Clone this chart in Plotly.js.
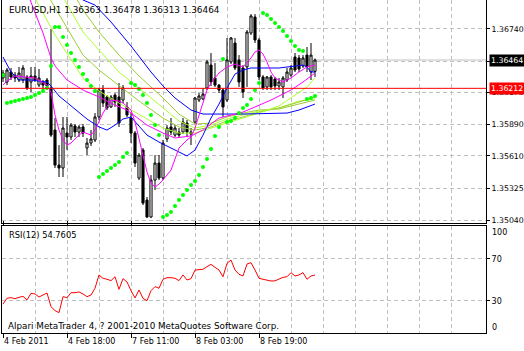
<!DOCTYPE html>
<html><head><meta charset="utf-8">
<script src="https://cdn.plot.ly/plotly-3.0.1.min.js"></script>
<style>html,body{margin:0;padding:0;background:#fff;overflow:hidden}#chart{width:524px;height:351px}</style>
</head><body><div id="chart"></div>
<script>
const symbolName = 'EURUSD,H1';
const openP = [1.36304,1.36268,1.36357,1.36330,1.36286,1.36286,1.36313,1.36268,1.36322,1.36241,
1.36268,1.36286,1.36215,1.35841,1.35529,1.35503,1.35814,1.35779,1.35877,1.35823,
1.35868,1.35681,1.35725,1.35752,1.35957,1.36197,1.36135,1.36046,1.36152,1.36135,
1.36108,1.36046,1.35948,1.35814,1.35414,1.35663,1.35218,1.35067,1.35396,1.35547,
1.35414,1.35761,1.35868,1.35796,1.35823,1.35823,1.35903,1.35823,1.35912,1.36108,
1.36117,1.36215,1.36419,1.36304,1.36241,1.36197,1.36108,1.36446,1.36615,1.36464,
1.36393,1.36402,1.36704,1.36847,1.36642,1.36313,1.36224,1.36313,1.36295,1.36233,
1.36224,1.36286,1.36330,1.36491,1.36482,1.36411,1.36508,1.36357,1.36363];
const highP = [1.36375,1.36393,1.36393,1.36357,1.36402,1.36419,1.36330,1.36402,1.36402,1.36384,
1.36286,1.36304,1.36740,1.35948,1.35707,1.35957,1.35957,1.35903,1.35894,1.35885,
1.35894,1.35770,1.35841,1.35992,1.36215,1.36241,1.36152,1.36152,1.36170,1.36259,
1.36241,1.36090,1.35992,1.35832,1.35636,1.35681,1.35245,1.35440,1.35618,1.35618,
1.35752,1.35885,1.35948,1.35885,1.35859,1.35948,1.35930,1.35859,1.36135,1.36170,
1.36215,1.36464,1.36526,1.36437,1.36250,1.36215,1.36660,1.36669,1.36660,1.36508,
1.36419,1.36731,1.36873,1.36873,1.36660,1.36330,1.36322,1.36330,1.36313,1.36304,
1.36322,1.36393,1.36419,1.36526,1.36508,1.36508,1.36580,1.36615,1.36478];
const lowP = [1.36268,1.36241,1.36286,1.36268,1.36268,1.36259,1.36197,1.36179,1.36268,1.36224,
1.36179,1.36215,1.35779,1.35503,1.35423,1.35423,1.35663,1.35752,1.35779,1.35779,
1.35779,1.35618,1.35699,1.35734,1.35930,1.36046,1.36019,1.36037,1.36046,1.35868,
1.36081,1.35957,1.35725,1.35512,1.35396,1.35173,1.35058,1.35058,1.35307,1.35396,
1.35396,1.35734,1.35796,1.35779,1.35770,1.35805,1.35779,1.35707,1.35894,1.36090,
1.36108,1.36197,1.36233,1.36224,1.36170,1.35957,1.36090,1.36428,1.36375,1.36224,
1.36126,1.36224,1.36686,1.36615,1.36286,1.36197,1.36197,1.36197,1.36197,1.36197,
1.36126,1.36268,1.36313,1.36357,1.36357,1.36393,1.36357,1.36286,1.36313];
const closeP = [1.36348,1.36375,1.36313,1.36304,1.36348,1.36393,1.36215,1.36322,1.36286,1.36304,
1.36241,1.36233,1.35796,1.35529,1.35503,1.35859,1.35779,1.35885,1.35823,1.35868,
1.35814,1.35725,1.35761,1.35957,1.36197,1.36081,1.36037,1.36135,1.36090,1.35903,
1.36215,1.35974,1.35814,1.35547,1.35618,1.35191,1.35067,1.35396,1.35547,1.35414,
1.35725,1.35859,1.35823,1.35859,1.35796,1.35912,1.35823,1.35805,1.36126,1.36144,
1.36161,1.36446,1.36268,1.36241,1.36197,1.36046,1.36464,1.36660,1.36393,1.36268,
1.36179,1.36713,1.36856,1.36642,1.36313,1.36215,1.36313,1.36224,1.36233,1.36268,
1.36304,1.36357,1.36393,1.36375,1.36384,1.36482,1.36402,1.36508,1.36464];
const sarP = [1.36330,1.36081,1.36090,1.36099,1.36108,1.36117,1.36126,1.36135,1.36152,1.36170,
1.36188,1.36215,1.36411,1.36758,1.36758,1.36669,1.36597,1.36526,1.36464,1.36402,
1.36339,1.36286,1.36233,1.36188,1.35423,1.35449,1.35476,1.35503,1.35529,1.35556,
1.35601,1.35636,1.36259,1.36241,1.36206,1.36152,1.36081,1.35974,1.35885,1.35796,
1.35067,1.35084,1.35111,1.35165,1.35218,1.35262,1.35307,1.35351,1.35387,1.35440,
1.35512,1.35583,1.35672,1.35788,1.35868,1.36473,1.35912,1.35921,1.35948,1.35992,
1.36037,1.36063,1.36117,1.36197,1.36259,1.36882,1.36864,1.36829,1.36793,1.36758,
1.36722,1.36678,1.36633,1.36589,1.36553,1.36544,1.36117,1.36126,1.36144];
const rsiV = [27,32.6,33.2,32.2,33.5,34.4,31,37.3,36.7,33.8,
35.7,37.6,24.6,20.8,18.9,34.1,33.2,37.9,37.9,38.6,
36.7,34.1,35.7,42.1,54.8,51.6,50.7,49.4,53.1,41.1,
51.3,48.1,39.8,32.9,40.5,32.5,30.3,39.8,43.7,42.1,
50.7,52.2,52.2,51.6,49.4,54.8,50,51.3,59.5,60.2,
60.2,62.7,64.9,62.1,59.5,53.1,65.9,69,59.5,55.4,
53.8,65.2,66.5,59.5,51.6,50.7,50,49,49.2,50.7,
52.5,53.1,57,53.8,54.8,57,50.7,53.8,54.7605];

// moving-average style lines (bar index, price)
const ma1Idx = [0,1,3,6,8,11,12,13,14,15,16,17,18,19,20,22,23,24,25,27,29,30,32,33,34,35,36,37,38,39,40,42,44,46,47,48,49,50,51,52,54,56,58,60,62,63,64,65,66,67,68,70,72,74,76,78];
const ma1Val = [1.36241,1.36277,1.36322,1.36313,1.36304,1.36241,1.36179,1.35974,1.35841,1.35752,1.35707,1.35725,1.35761,1.35796,1.35823,1.35796,1.35841,1.35912,1.35992,1.36108,1.36099,1.36081,1.36019,1.35912,1.35770,1.35618,1.35467,1.35369,1.35334,1.35360,1.35396,1.35485,1.35681,1.35752,1.35779,1.35859,1.35974,1.36090,1.36197,1.36259,1.36348,1.36402,1.36428,1.36402,1.36482,1.36535,1.36553,1.36517,1.36446,1.36357,1.36304,1.36268,1.36304,1.36357,1.36402,1.36419];
const ma2Idx = [6,10,12,13,16,20,24,28,31,33,36,40,43,47,50,52,54,57,60,63,67,72,75,78];
const ma2Val = [1.37069,1.36704,1.36482,1.36411,1.36286,1.36197,1.36135,1.36063,1.36019,1.35966,1.35885,1.35814,1.35770,1.35788,1.35841,1.35894,1.35948,1.35974,1.36001,1.36046,1.36108,1.36197,1.36268,1.36348];
const bl1Idx = [0,2,4,7,11,12,14,17,19,21,24,26,28,30,32,34,36,39,42,46,48,50,52,54,56,58,60,62,69,73,75,76,77,78];
const bl1Val = [1.36491,1.36357,1.36286,1.36286,1.36268,1.36233,1.36144,1.36055,1.36001,1.35939,1.35868,1.35841,1.35885,1.35939,1.35957,1.35877,1.35796,1.35734,1.35681,1.35610,1.35663,1.35796,1.35948,1.36072,1.36215,1.36339,1.36375,1.36393,1.36393,1.36411,1.36419,1.36402,1.36357,1.36357];
const bl2Idx = [18,20,23,27,32,37,40,43,47,50,60,71,74,78];
const bl2Val = [1.37051,1.36998,1.36953,1.36802,1.36589,1.36357,1.36233,1.36126,1.36019,1.35983,1.35983,1.35992,1.36019,1.36072];
const yg1Idx = [8,13,20,24,29,34,40,44,48,52,56,60,64,69,73,76,78];
const yg1Val = [1.37016,1.36686,1.36304,1.36188,1.36081,1.35983,1.35859,1.35814,1.35814,1.35859,1.35903,1.35948,1.35992,1.36055,1.36152,1.36224,1.36304];
const yg2Idx = [11,20,24,29,34,40,44,48,52,56,60,64,69,74,78];
const yg2Val = [1.37051,1.36508,1.36375,1.36233,1.36099,1.35948,1.35868,1.35841,1.35868,1.35921,1.35957,1.36001,1.36037,1.36090,1.36135];
const yg3Idx = [15,20,24,29,34,40,44,48,52,56,60,64,69,74,78];
const yg3Val = [1.37025,1.36713,1.36553,1.36357,1.36215,1.36037,1.35921,1.35859,1.35885,1.35939,1.35974,1.36010,1.36037,1.36099,1.36117];
const yg4Idx = [18,20,24,29,34,40,44,48,52,56,60,64,69,74,78];
const yg4Val = [1.37034,1.36909,1.36713,1.36508,1.36322,1.36126,1.35983,1.35894,1.35903,1.35957,1.35992,1.36019,1.36028,1.36072,1.36108];

const timeTickIdx = [0,16,32,48,64];
const timeTickText = ['4 Feb 2011','4 Feb 18:00','7 Feb 11:00','8 Feb 03:00','8 Feb 19:00'];
const timeGridIdx = [8,24,40,56,72,80,88,96,104,112];
const priceTicks = [1.35040,1.35325,1.35610,1.35890,1.36175,1.36455,1.36740];
const rsiTicks = [30,70];
const levelPrice = 1.36212;
const rsiPeriod = 12;
const footerText = 'Alpari MetaTrader 4, ? 2001-2010 MetaQuotes Software Corp.';

const n = closeP.length;
const idx = closeP.map((_, k) => k);
const bidPrice = closeP[n - 1];
const FONT = 'Tahoma, "DejaVu Sans", sans-serif';
const GRID = {showgrid:true, gridcolor:'#C0C0C0', griddash:'4px,3px', gridwidth:1};

function lineTrace(x, y, color) {
  return {type:'scatter', mode:'lines', x:x, y:y, xaxis:'x', yaxis:'y', line:{color:color, width:1}, hoverinfo:'skip', cliponaxis:true};
}

const traces = [
  {type:'candlestick', x:idx, open:openP, high:highP, low:lowP, close:closeP, xaxis:'x', yaxis:'y',
   increasing:{line:{color:'#000000', width:1}, fillcolor:'#FFFFFF'},
   decreasing:{line:{color:'#000000', width:1}, fillcolor:'#000000'},
   whiskerwidth:0, hoverinfo:'skip'},
  lineTrace(yg4Idx, yg4Val, '#9ACD32'),
  lineTrace(yg3Idx, yg3Val, '#ADFF2F'),
  lineTrace(yg2Idx, yg2Val, '#9ACD32'),
  lineTrace(yg1Idx, yg1Val, '#ADFF2F'),
  lineTrace(bl2Idx, bl2Val, '#0000FF'),
  lineTrace(bl1Idx, bl1Val, '#0000FF'),
  lineTrace(ma2Idx, ma2Val, '#FF00FF'),
  lineTrace(ma1Idx, ma1Val, '#FF00FF'),
  {type:'scatter', mode:'markers', x:idx, y:sarP, xaxis:'x', yaxis:'y', marker:{color:'#00FF00', size:4, symbol:'circle', line:{width:0}}, hoverinfo:'skip'},
  {type:'scatter', mode:'lines', x:idx, y:rsiV, xaxis:'x', yaxis:'y2', line:{color:'#FF0000', width:1}, hoverinfo:'skip'}
];

const titleText = symbolName + ' ' + [openP[n-1], highP[n-1], lowP[n-1], closeP[n-1]].map(v => v.toFixed(5)).join(' ');
const rsiText = 'RSI(' + rsiPeriod + ') ' + rsiV[n-1].toFixed(4);

const layout = {
  width:524, height:351,
  margin:{l:2, r:38, t:0, b:18, pad:0},
  paper_bgcolor:'#FFFFFF', plot_bgcolor:'#FFFFFF',
  showlegend:false, hovermode:false, dragmode:false,
  font:{family:FONT, size:8, color:'#000000'},
  boxgap:0.25,
  xaxis:Object.assign({
    range:[-0.25, 120.75], anchor:'y2', tickmode:'array', tickvals:timeTickIdx, ticktext:timeTickText,
    ticks:'outside', ticklen:4, tickwidth:1, tickcolor:'#000000', ticklabelposition:'outside right',
    tickfont:{family:FONT, size:8},
    minor:{tickmode:'array', tickvals:timeGridIdx, showgrid:true, gridcolor:'#C0C0C0', griddash:'4px,3px', gridwidth:1, ticks:''},
    zeroline:false, showline:true, linecolor:'#000000', linewidth:1, mirror:'all',
    rangeslider:{visible:false}, fixedrange:true
  }, GRID),
  yaxis:Object.assign({
    domain:[0.3318, 1], range:[1.35018, 1.36998], side:'right', anchor:'x',
    tickmode:'array', tickvals:priceTicks, ticktext:priceTicks.map(v => v.toFixed(5)),
    ticks:'outside', ticklen:3, tickwidth:1, tickcolor:'#000000', tickfont:{family:FONT, size:7.8},
    zeroline:false, showline:true, linecolor:'#000000', linewidth:1, mirror:true, fixedrange:true
  }, GRID),
  yaxis2:Object.assign({
    domain:[0, 0.3228], range:[-0.5, 101.9], side:'right', anchor:'x',
    tickmode:'array', tickvals:rsiTicks, ticktext:rsiTicks.map(String),
    ticks:'outside', ticklen:3, tickwidth:1, tickcolor:'#000000', tickfont:{family:FONT, size:8},
    zeroline:false, showline:true, linecolor:'#000000', linewidth:1, mirror:true, fixedrange:true
  }, GRID),
  shapes:[
    {type:'line', xref:'x domain', x0:0, x1:1, yref:'y', y0:bidPrice, y1:bidPrice, line:{color:'#C0C0C0', width:1}, layer:'below'},
    {type:'line', xref:'x domain', x0:0, x1:1, yref:'y', y0:levelPrice, y1:levelPrice, line:{color:'#FF0000', width:1}, layer:'above'}
  ],
  annotations:[
    {xref:'paper', yref:'paper', x:0.0103, y:0.9685, xanchor:'left', yanchor:'middle', text:titleText, showarrow:false, font:{family:FONT, size:8.9, color:'#000'}},
    {xref:'paper', yref:'paper', x:0.0103, y:0.2928, xanchor:'left', yanchor:'middle', text:rsiText, showarrow:false, font:{family:FONT, size:8.3, color:'#000'}},
    {xref:'paper', yref:'paper', x:0.0083, y:0.021, xanchor:'left', yanchor:'middle', text:footerText, showarrow:false, font:{family:FONT, size:8.8, color:'#000'}},
    {xref:'paper', yref:'y', x:1.0062, y:bidPrice, xanchor:'left', yanchor:'middle', text:bidPrice.toFixed(5), showarrow:false, bgcolor:'#000000', borderpad:1, font:{family:FONT, size:7.8, color:'#FFFFFF'}},
    {xref:'paper', yref:'y', x:1.0062, y:levelPrice, xanchor:'left', yanchor:'middle', text:levelPrice.toFixed(5), showarrow:false, bgcolor:'#FF0000', borderpad:1, font:{family:FONT, size:7.8, color:'#FFFFFF'}},
    {xref:'paper', yref:'paper', x:1.0083, y:0.3012, xanchor:'left', yanchor:'middle', text:'100', showarrow:false, font:{family:FONT, size:8, color:'#000'}},
    {xref:'paper', yref:'paper', x:1.0083, y:0.0165, xanchor:'left', yanchor:'middle', text:'0', showarrow:false, font:{family:FONT, size:8, color:'#000'}}
  ]
};

Plotly.newPlot('chart', traces, layout, {staticPlot:true, displayModeBar:false});
</script>
</body></html>
